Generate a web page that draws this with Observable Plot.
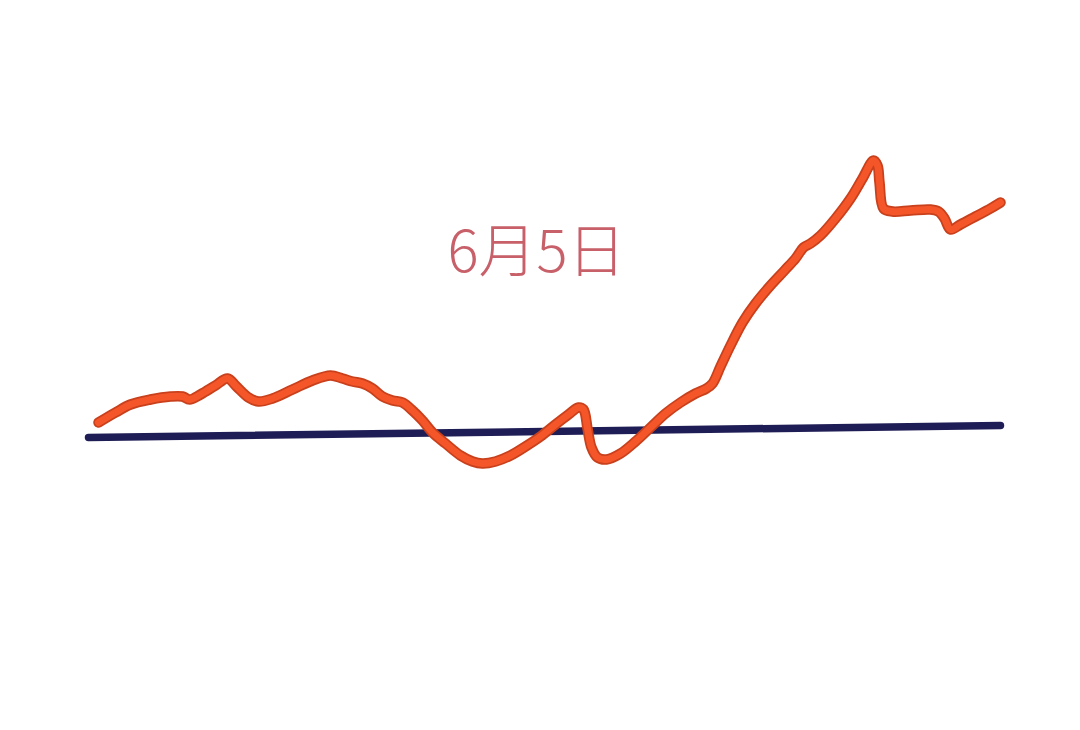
<!DOCTYPE html>
<html>
<head>
<meta charset="utf-8">
<script src="https://cdn.jsdelivr.net/npm/d3@7"></script>
<script src="https://cdn.jsdelivr.net/npm/@observablehq/plot@0.6"></script>
<style>
  html, body { margin: 0; padding: 0; background: #ffffff; }
  #chart { width: 1080px; height: 730px; }
</style>
</head>
<body>
<div id="chart"></div>
<script>
// Series (t = horizontal position, v = level relative to the reference line)
const seriesT = [98,115,130,150,170,182,189,200,215,227,236,248,258,272,292,312,330,342,352,362,372,382,392,402,412,422,432,445,460,472,482,495,510,525,540,555,568,578,583,587,591,597,606,620,635,650,665,680,695,706,712,720,730,742,755,770,784,795,803,810,820,835,850,862,873,877,879,883,892,910,930,938,944,950,960,975,990,1000];
const seriesY = [422,412,404,399,396,396,399,394,385,378,386,397,401,398,389,380,375,378,381,383,388,396,400,402,410,420,432,443,455,461,463,461,455,446,436,424,414,407,409,428,447,457,459,453,441,427,413,402,393,388,383,366,345,322,303,285,270,258,247,243,235,218,198,178,160,165,182,208,211,210,209,211,218,229,224,216,208,202];
const baseT = [88, 1000];
const baseY = [437, 425];
const label = "6月5日";
const ref = 437; // reference level

const series = seriesT.map((t, i) => ({t, v: ref - seriesY[i]}));
const base = baseT.map((t, i) => ({t, v: ref - baseY[i]}));

const chart = Plot.plot({
  width: 1080,
  height: 730,
  margin: 0,
  x: {domain: [0, 1080], axis: null},
  y: {domain: [ref - 730, ref], axis: null},
  marks: [
    Plot.line(base, {x: "t", y: "v", stroke: "#1f1d55", strokeWidth: 7.5, strokeLinecap: "round"}),
    Plot.line(series, {x: "t", y: "v", curve: "catmull-rom", stroke: "#c9401c", strokeWidth: 10.5, strokeLinecap: "round", strokeLinejoin: "round"}),
    Plot.line(series, {x: "t", y: "v", curve: "catmull-rom", stroke: "#f4562a", strokeWidth: 7, strokeLinecap: "round", strokeLinejoin: "round"}),
    Plot.text([label], {x: [536], y: [ref - 253], text: d => d, fontSize: 58, fill: "#c8606a", fontFamily: "'Noto Sans CJK SC', 'Noto Sans', sans-serif", fontWeight: 300, letterSpacing: 1.5})
  ]
});
document.getElementById("chart").appendChild(chart);
</script>
</body>
</html>
